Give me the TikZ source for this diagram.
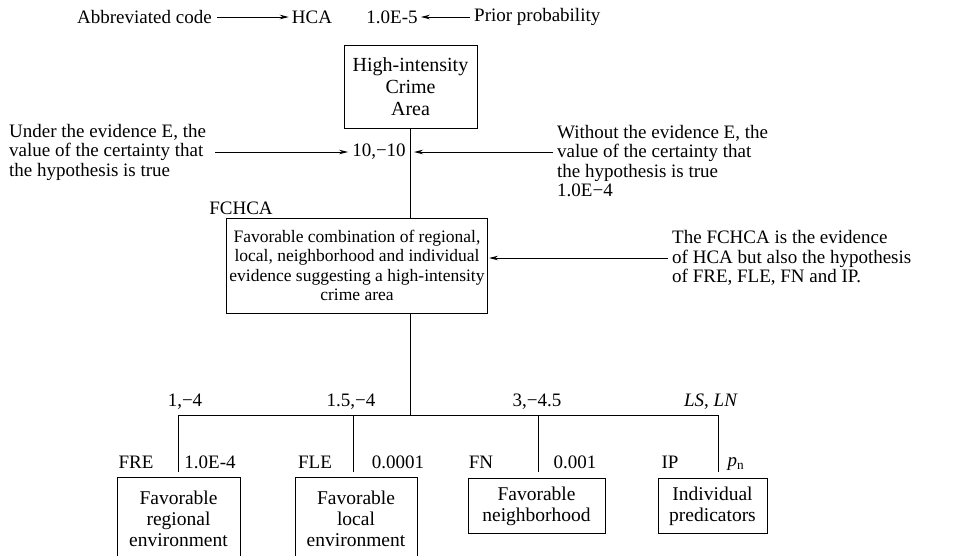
\documentclass[tikz,border=0pt]{standalone}
\usepackage{fontspec}
\setmainfont{Liberation Serif}
\usetikzlibrary{arrows.meta}
\newcommand{\txtsize}[2]{\fontsize{#1}{#2}\selectfont}
\begin{document}
\begin{tikzpicture}[x=1pt,y=-1pt,
  every node/.style={font=\txtsize{19}{19.5}, inner sep=0pt},
  box/.style={draw, line width=0.9pt, align=center, inner sep=3pt},
  lbl/.style={align=left},
  wire/.style={line width=0.9pt},
  pointer/.style={line width=0.9pt, -{Stealth[length=9pt,width=4.5pt]}}]
\useasboundingbox (0,0) rectangle (964,555);

% header line: code and prior probability
\node[anchor=west] (abbr) at (77,17) {Abbreviated code};
\node (hcacode) at (312,17) {HCA};
\node (prior) at (392,17) {1.0E-5};
\node[anchor=west] (priortxt) at (474,17) {Prior probability};
\draw[pointer] ([xshift=5pt]abbr.east) -- ([xshift=-3pt]hcacode.west);
\draw[pointer] ([xshift=-4pt]priortxt.west) -- ([xshift=3pt]prior.east);

% top hypothesis
\node[box, font=\txtsize{20}{22}, minimum width=133pt, minimum height=83pt] (hca) at (410.5,86.5)
  {High-intensity\\Crime\\Area};

% certainty values
\node (cf) at (379,152) {10,−10};
\node[lbl, anchor=west] (undertxt) at (9,152)
  {Under the evidence E, the\\value of the certainty that\\the hypothesis is true};
\node[lbl, anchor=west] (withouttxt) at (557,161)
  {Without the evidence E, the\\value of the certainty that\\the hypothesis is true\\1.0E−4};
\coordinate (withoutfrom) at (553,152);
\coordinate (withoutto) at (414,152);
\draw[pointer] ([xshift=9pt]undertxt.east |- cf.west) -- ([xshift=-4pt]cf.west);
\draw[pointer] (withoutfrom) -- (withoutto);

% intermediate hypothesis
\node (fchcacode) at (241,208) {FCHCA};
\node[box, font=\txtsize{17.5}{19.5}, minimum width=256pt, minimum height=95pt] (fchca) at (357,265.5)
  {Favorable combination of regional,\\local, neighborhood and individual\\evidence suggesting a high-intensity\\crime area};
\draw[wire] (hca.south) -- (hca.south |- fchca.north);

\node[lbl, anchor=west] (fchcatxt) at (672,258)
  {The FCHCA is the evidence\\of HCA but also the hypothesis\\of FRE, FLE, FN and IP.};
\coordinate (fchcafrom) at (668,258);
\draw[pointer] (fchcafrom) -- ([xshift=1pt]fchca.east |- fchcafrom);

% evidence boxes
\tikzset{evbox/.style={box, font=\txtsize{19.5}{21}, anchor=north}}
\node[evbox, minimum width=123pt, minimum height=82pt] (fre) at (178.5,477)
  {Favorable\\regional\\environment};
\node[evbox, minimum width=122pt, minimum height=82pt] (fle) at (356,477)
  {Favorable\\local\\environment};
\node[evbox, minimum width=137pt, minimum height=55pt] (fn) at (536.5,478)
  {Favorable\\neighborhood};
\node[evbox, minimum width=109pt, minimum height=55pt] (ip) at (712.5,478)
  {Individual\\predicators};

% distribution bus
\coordinate (bus) at (410,415);
\coordinate (busl) at (178,415);
\coordinate (busr) at (718,415);
\coordinate (dfre) at (178,472);
\coordinate (dfle) at (353,472);
\coordinate (dfn) at (538,472);
\coordinate (dip) at (718,472);
\draw[wire] (fchca.south -| bus) -- (bus);
\draw[wire] (busl) -- (busr);
\draw[wire] (busl) -- (dfre);
\draw[wire] (dfle |- bus) -- (dfle);
\draw[wire] (dfn |- bus) -- (dfn);
\draw[wire] (busr) -- (dip);

% likelihood labels
\node (lfre) at (185,402) {1,−4};
\node (lfle) at (351,402) {1.5,−4};
\node (lfn) at (537,402) {3,−4.5};
\node (lip) at (711,402) {\textit{LS}, \textit{LN}};

% codes and priors
\node (cfre) at (136,462) {FRE};
\node (pfre) at (210,462) {1.0E-4};
\node (cfle) at (315,462) {FLE};
\node (pfle) at (398,462) {0.0001};
\node (cfn) at (481,462) {FN};
\node (pfn) at (575,462) {0.001};
\node (cip) at (670,462) {IP};
\node (pip) at (736,464) {\textit{p}\textsubscript{n}};
\end{tikzpicture}
\end{document}
